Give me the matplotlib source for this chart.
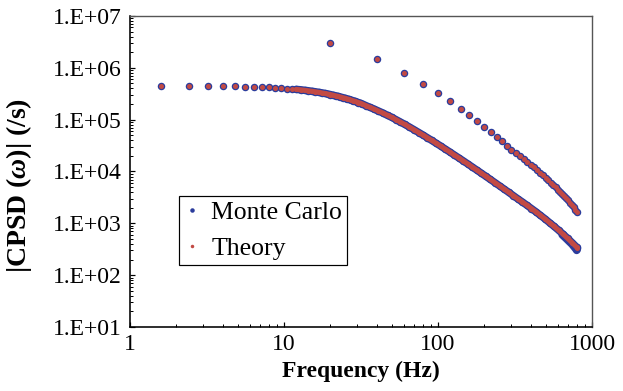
import numpy as np
import matplotlib
matplotlib.use("Agg")
import matplotlib.pyplot as plt
from matplotlib.lines import Line2D

plt.rcParams['font.family'] = ['Liberation Serif', 'DejaVu Serif']
plt.rcParams['mathtext.fontset'] = 'custom'
plt.rcParams['mathtext.it'] = 'Liberation Serif:italic:bold'
plt.rcParams['mathtext.rm'] = 'Liberation Serif:bold'
plt.rcParams['mathtext.bf'] = 'Liberation Serif:bold'

# ---------------- data ----------------
# main CPSD curve: frequency (Hz) and |CPSD| (/s)
main_freq = [1.6, 2.4, 3.2, 4.0, 4.8, 5.6, 6.4, 7.2, 8.0, 8.8, 9.6, 10.4, 11.2, 12.0,
             12.8, 13.6, 14.4, 15.2, 16.0, 16.8, 17.6, 18.4, 19.2, 20.0, 20.8, 21.6,
             22.4, 23.2, 24.0, 24.8, 25.6, 26.4, 27.2, 28.0, 28.8, 29.6, 30.4, 31.2,
             32.0, 34, 36, 38.5, 41, 44, 47, 50, 53.5, 57, 61, 65, 70, 75, 80, 85,
             91, 97, 104, 111, 119, 127, 136, 146, 156, 167, 179, 191, 205, 219,
             235, 251, 269, 288, 308, 330, 353, 378, 404, 432, 463, 495, 530, 567,
             606, 649, 694, 743, 795, 800]
main_theory = [4.49e5, 4.47e5, 4.45e5, 4.42e5, 4.38e5, 4.34e5, 4.29e5, 4.24e5, 4.18e5,
               4.12e5, 4.06e5, 3.99e5, 3.92e5, 3.84e5, 3.77e5, 3.69e5, 3.61e5, 3.53e5,
               3.45e5, 3.37e5, 3.29e5, 3.21e5, 3.13e5, 3.05e5, 2.97e5, 2.89e5, 2.82e5,
               2.74e5, 2.67e5, 2.60e5, 2.53e5, 2.46e5, 2.39e5, 2.33e5, 2.27e5, 2.20e5,
               2.14e5, 2.09e5, 2.03e5, 1.87e5, 1.74e5, 1.60e5, 1.47e5, 1.34e5, 1.21e5,
               1.11e5, 9.97e4, 9.01e4, 8.07e4, 7.25e4, 6.38e4, 5.65e4, 5.04e4, 4.51e4,
               3.98e4, 3.53e4, 3.10e4, 2.73e4, 2.39e4, 2.10e4, 1.84e4, 1.60e4, 1.40e4,
               1.22e4, 1.06e4, 9.29e3, 8.03e3, 7.01e3, 6.06e3, 5.28e3, 4.57e3, 3.96e3,
               3.43e3, 2.96e3, 2.58e3, 2.23e3, 1.93e3, 1.67e3, 1.42e3, 1.22e3, 1.03e3,
               875, 739, 617, 513, 423, 346, 340]

# Monte Carlo scatter visible at the high-frequency end
mc_tail_freq = [640, 680, 710, 740, 765, 785, 795, 800]
mc_tail_val = [600, 505, 445, 395, 350, 318, 300, 305]

# spikes at multiples of 20 Hz
spike_freq = [20, 40, 60, 80, 100, 120, 140, 160, 180, 200, 220, 240, 260, 280, 300,
              320, 340, 360, 380, 400, 420, 440, 460, 480, 500, 520, 540, 560, 580,
              600, 620, 640, 660, 680, 700, 720, 740, 760, 780, 800]
spike_val = [2.95e6, 1.47e6, 7.9e5, 4.8e5, 3.2e5, 2.25e5, 1.62e5, 1.21e5, 9.3e4, 7.2e4,
             5.75e4, 4.65e4, 3.8e4, 3.15e4, 2.62e4, 2.25e4, 1.96e4, 1.72e4, 1.52e4,
             1.355e4, 1.21e4, 1.07e4, 9.46e3, 8.43e3, 7.55e3, 6.79e3, 6.13e3, 5.5e3,
             4.96e3, 4.49e3, 4.08e3, 3.72e3, 3.39e3, 3.05e3, 2.78e3, 2.5e3, 2.25e3,
             2.03e3, 1.84e3, 1.66e3]

ytick_vals = [1e1, 1e2, 1e3, 1e4, 1e5, 1e6, 1e7]
ytick_labels = ["1.E+01", "1.E+02", "1.E+03", "1.E+04", "1.E+05", "1.E+06", "1.E+07"]
xtick_vals = [1, 10, 100, 1000]
xtick_labels = ["1", "10", "100", "1000"]

legend_labels = ["Monte Carlo", "Theory"]

# ---------------- styling ----------------
BLUE = '#2b3c9c'
RED = '#c24a44'
DPI = 100
px = 72.0 / DPI

fig = plt.figure(figsize=(6.23, 3.91), dpi=DPI)
ax = fig.add_axes([130 / 623, 1 - 327 / 391, 462 / 623, 311 / 391])
ax.set_xscale('log')
ax.set_yscale('log')

mf = np.array(main_freq)
mt = np.array(main_theory)
dense = mf >= 12

# Monte Carlo (blue, underneath)
ax.plot(mf[dense], mt[dense], '-', color=BLUE, lw=7.5 * px, solid_capstyle='round', zorder=2)
ax.plot(mf, mt, 'o', color=BLUE, ms=7.5 * px, mew=0, zorder=2)
ax.plot(mc_tail_freq, mc_tail_val, '-', color=BLUE, lw=7.5 * px, solid_capstyle='round', zorder=2)
ax.plot(spike_freq, spike_val, 'o', color=BLUE, ms=7.5 * px, mew=0, zorder=2)

# Theory (red, on top)
ax.plot(mf[dense], mt[dense], '-', color=RED, lw=5 * px, solid_capstyle='round', zorder=3)
ax.plot(mf, mt, 'o', color=RED, ms=5 * px, mew=0, zorder=3)
ax.plot(spike_freq, spike_val, 'o', color=RED, ms=5 * px, mew=0, zorder=3)

ax.set_xlim(1, 1000)
ax.set_ylim(10, 1e7)

ax.set_xticks(xtick_vals, xtick_labels)
ax.set_yticks(ytick_vals, ytick_labels)
ax.xaxis.set_minor_locator(matplotlib.ticker.LogLocator(base=10, subs=np.arange(2, 10)))
ax.yaxis.set_minor_locator(matplotlib.ticker.LogLocator(base=10, subs=np.arange(2, 10), numticks=20))
ax.xaxis.set_minor_formatter(matplotlib.ticker.NullFormatter())
ax.yaxis.set_minor_formatter(matplotlib.ticker.NullFormatter())

ax.tick_params(axis='both', which='major', direction='in', length=5 * px, width=1.2 * px,
               labelsize=17, colors='black')
ax.tick_params(axis='both', which='minor', direction='in', length=3 * px, width=1.0 * px)
ax.tick_params(axis='x', which='major', pad=5)
ax.tick_params(axis='y', which='major', pad=6)

for s in ['left', 'bottom']:
    ax.spines[s].set_color('black')
    ax.spines[s].set_linewidth(1.6 * px)
for s in ['top', 'right']:
    ax.spines[s].set_color('#555555')
    ax.spines[s].set_linewidth(1.4 * px)

ax.set_xlabel('Frequency (Hz)', fontsize=17, fontweight='bold', labelpad=4)
ax.set_ylabel(r'|CPSD ($\omega$)| (/s)', fontsize=20, fontweight='bold')
ax.yaxis.set_label_coords((34 - 130) / 462, (327 - 186) / 311)

handles = [Line2D([], [], ls='none', marker='o', color=BLUE, ms=4.5 * px, mew=0),
           Line2D([], [], ls='none', marker='o', color=RED, ms=3.5 * px, mew=0)]
leg = ax.legend(handles, legend_labels, loc='upper left',
                bbox_to_anchor=((179.3 - 130) / 462, (327 - 195.7) / 311),
                frameon=True, fancybox=False, shadow=False, fontsize=18.5,
                borderaxespad=0, borderpad=0.2, handlelength=0.6, handletextpad=0.45,
                labelspacing=0.5)
leg.get_frame().set_edgecolor('black')
leg.get_frame().set_linewidth(1.2 * px)
leg.get_frame().set_alpha(1)

fig.savefig('out.png', dpi=DPI)
